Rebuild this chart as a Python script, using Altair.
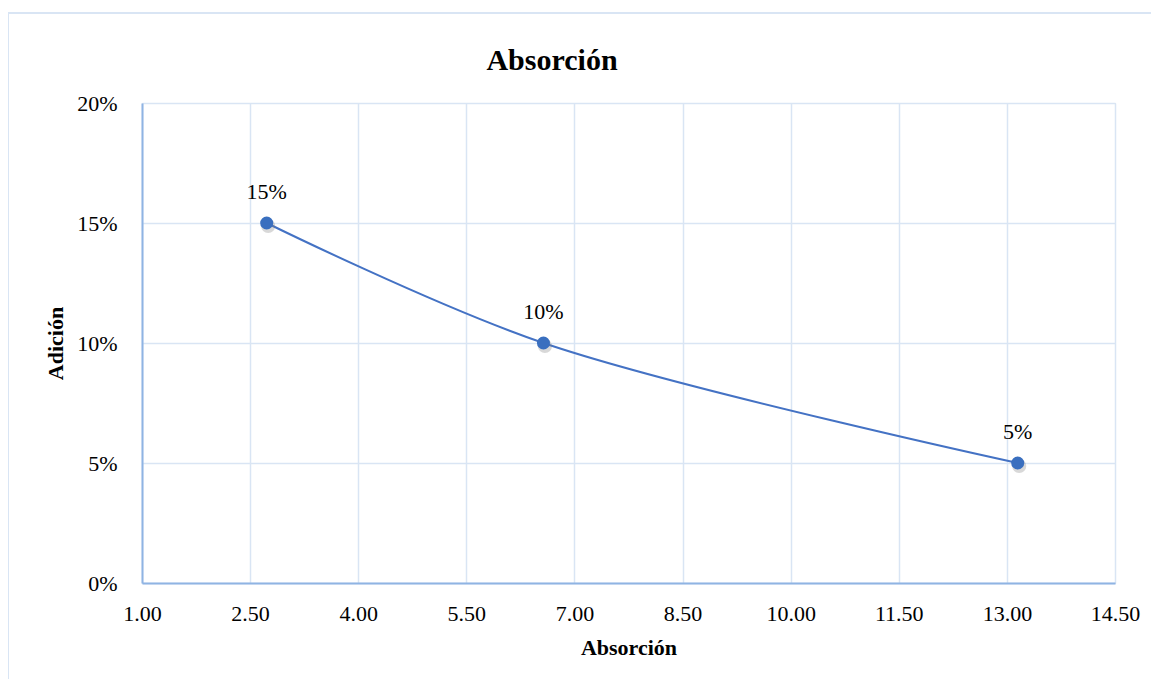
import altair as alt
import pandas as pd

absorcion = [2.73, 6.57, 13.15]
adicion = [0.15, 0.10, 0.05]
etiquetas = ["15%", "10%", "5%"]

x_ticks = [1.0, 2.5, 4.0, 5.5, 7.0, 8.5, 10.0, 11.5, 13.0, 14.5]
y_ticks = [0.0, 0.05, 0.10, 0.15, 0.20]

df = pd.DataFrame({"Absorción": absorcion, "Adición": adicion, "label": etiquetas})
one = pd.DataFrame({"k": [0]})

FONT = "Liberation Serif"
BLUE = "#4472C4"
GRID = "#d9e5f4"
DOMAIN = "#8fb4e3"

x_enc = alt.X("Absorción:Q",
              scale=alt.Scale(domain=[1, 14.5], nice=False, zero=False),
              axis=alt.Axis(values=x_ticks, format=".2f", title="Absorción",
                            titleFont=FONT, titleFontSize=22, titleFontWeight="bold",
                            titleColor="black", titlePadding=13,
                            labelFont=FONT, labelFontSize=22, labelColor="black",
                            labelPadding=20, ticks=False, grid=True, gridColor=GRID,
                            gridWidth=1.5, domainColor=DOMAIN, domainWidth=2,
                            labelFlush=False))
y_enc = alt.Y("Adición:Q",
              scale=alt.Scale(domain=[0, 0.2], nice=False),
              axis=alt.Axis(values=y_ticks, format=".0%", title="Adición",
                            titleFont=FONT, titleFontSize=22, titleFontWeight="bold",
                            titleColor="black", titlePadding=9,
                            labelFont=FONT, labelFontSize=22, labelColor="black",
                            labelPadding=25, ticks=False, grid=True, gridColor=GRID,
                            gridWidth=1.5, domainColor=DOMAIN, domainWidth=2,
                            labelFlush=False))

line = alt.Chart(df).mark_line(color=BLUE, strokeWidth=2, interpolate="catmull-rom").encode(
    x=x_enc, y=y_enc)
shadow = alt.Chart(df).mark_circle(color="#7f7f7f", size=200, opacity=0.3,
                                   xOffset=1.5, yOffset=3).encode(
    x="Absorción:Q", y="Adición:Q")
points = alt.Chart(df).mark_circle(color="#3a6fbf", size=170, opacity=1).encode(
    x="Absorción:Q", y="Adición:Q")
texts = alt.Chart(df).mark_text(font=FONT, fontSize=22, color="black", dy=-31,
                                baseline="middle").encode(
    x="Absorción:Q", y="Adición:Q", text="label:N")

title = alt.Chart(one).mark_text(font=FONT, fontSize=30, fontWeight="bold", color="black",
                                 baseline="middle", align="center").encode(
    x=alt.value(410), y=alt.value(-42), text=alt.value("Absorción"))

border_left = alt.Chart(one).mark_rule(color=GRID, strokeWidth=2).encode(
    x=alt.value(-134), y=alt.value(-90), y2=alt.value(600))
border_top = alt.Chart(one).mark_rule(color=GRID, strokeWidth=2).encode(
    x=alt.value(-134), x2=alt.value(1020), y=alt.value(-90))

chart = alt.layer(border_left, border_top, line, shadow, points, texts, title).properties(
    width=973, height=480,
    autosize=alt.AutoSizeParams(type="none"),
    padding={"left": 134, "top": 95, "right": 36, "bottom": 96},
).configure_view(stroke=None).configure(background="white")

chart.save("out.html", embed_options={"renderer": "svg", "actions": False})
